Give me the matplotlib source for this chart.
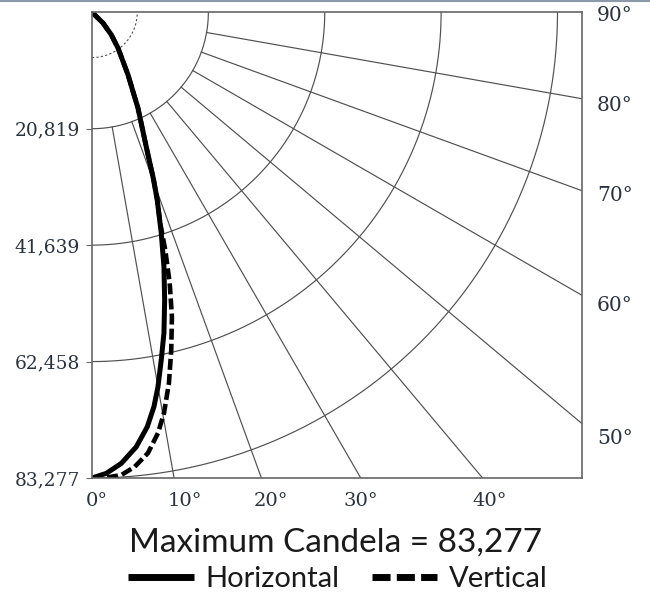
import numpy as np
import matplotlib.pyplot as plt
from matplotlib.lines import Line2D

# candela distribution, angle from nadir (deg) -> candela
angles_h = [0, 1.78, 3.72, 5.82, 7.60, 8.93, 10.0, 11.27, 12.65, 14.18, 15.80, 17.43, 19.18,
            20.24, 21.77, 25.67, 27.4, 30.0, 32.3, 36.1, 40.7, 45.8, 51.0]
cd_h = [83277, 82490, 80835, 78110, 74780, 71400, 68000, 63405, 58790, 53070, 47290, 41370, 35540,
        31800, 26510, 18995, 15920, 12880, 10375, 7905, 5295, 2735, 0]

angles_v = [0, 1.97, 3.62, 5.37, 7.24, 8.92, 10.19, 11.73, 13.21, 14.72, 16.02, 17.14, 18.0,
            19.18, 20.24, 21.77, 25.67, 27.4, 30.0, 32.3, 36.1, 40.7, 45.8, 51.0]
cd_v = [83277, 83200, 82920, 81630, 79450, 76160, 72815, 67715, 62045, 56290, 50370, 44485, 39300,
        35540, 31800, 26510, 18995, 15920, 12880, 10375, 7905, 5295, 2735, 0]

ring_values = [20819, 41639, 62458, 83277]
ring_labels = ['20,819', '41,639', '62,458', '83,277']
inner_ring = 8100

spoke_angles = [10, 20, 30, 40, 50, 60, 70, 80]
bottom_labels = ['0°', '10°', '20°', '30°', '40°']
bottom_label_x = [800, 16600, 32100, 48100, 71200]
right_labels = ['90°', '80°', '70°', '60°', '50°']
right_label_y = [-500, -16600, -32800, -52500, -76300]

max_cd = 83277
x_max = 87650

fig = plt.figure(figsize=(6.5, 5.99), dpi=100)
ax = fig.add_axes([0.1415, 0.202, 0.7538, 0.7775])
ax.set_xlim(0, x_max)
ax.set_ylim(-max_cd, 0)

grid_color = '#505050'
t = np.radians(np.linspace(0, 90, 200))
for r in ring_values:
    ax.plot(r * np.sin(t), -r * np.cos(t), color=grid_color, lw=0.85)
ax.plot(inner_ring * np.sin(t), -inner_ring * np.cos(t), color=grid_color, lw=0.8, ls=(0, (2, 2)))

for a in spoke_angles:
    ar = np.radians(a)
    ax.plot([ring_values[0] * np.sin(ar), 200000 * np.sin(ar)],
            [-ring_values[0] * np.cos(ar), -200000 * np.cos(ar)],
            color=grid_color, lw=0.85)

ah = np.radians(angles_h)
av = np.radians(angles_v)
ax.plot(np.array(cd_v) * np.sin(av), -np.array(cd_v) * np.cos(av), color='black',
        lw=3.3, ls=(0, (2.4, 0.9)), solid_joinstyle='round')
ax.plot(np.array(cd_h) * np.sin(ah), -np.array(cd_h) * np.cos(ah), color='black',
        lw=3.6, solid_capstyle='round', solid_joinstyle='round')

for s in ax.spines.values():
    s.set_color('#666666')
    s.set_linewidth(1.2)

serif = 'DejaVu Serif'
text_color = '#2a3240'
ax.set_xticks([])
ax.set_yticks([-v for v in ring_values])
ax.set_yticklabels(ring_labels, fontfamily=serif, fontsize=13.4, color=text_color)
ax.tick_params(axis='y', direction='out', length=4, color='#666666', pad=4.5)

for lab, xv in zip(bottom_labels, bottom_label_x):
    ax.text(xv, -max_cd - 4200, lab, ha='center', va='center', fontfamily=serif,
            fontsize=14, color=text_color, clip_on=False)
for lab, yv in zip(right_labels, right_label_y):
    ax.text(x_max + 2700, yv, lab, ha='left', va='center', fontfamily=serif,
            fontsize=14.5, color=text_color, clip_on=False)

fig.text(0.517, 1 - 552 / 599, 'Maximum Candela = 83,277', ha='center', va='baseline',
         fontfamily='Lato', fontsize=24, color='#1a1a1a')

handles = [Line2D([], [], color='black', lw=5, solid_capstyle='butt'),
           Line2D([], [], color='black', lw=5, ls=(0, (2.6, 0.9)))]
fig.legend(handles, ['Horizontal', 'Vertical'], loc='center', bbox_to_anchor=(0.52, 1 - 579 / 599),
           ncol=2, frameon=False, prop={'family': 'Lato', 'size': 21},
           handlelength=2.25, handletextpad=0.4, columnspacing=1.1, labelcolor='#1a1a1a')

fig.add_artist(Line2D([0, 1], [0.998, 0.998], color='#8a9aaa', lw=1.5, transform=fig.transFigure))

fig.savefig('out.png', dpi=100)
